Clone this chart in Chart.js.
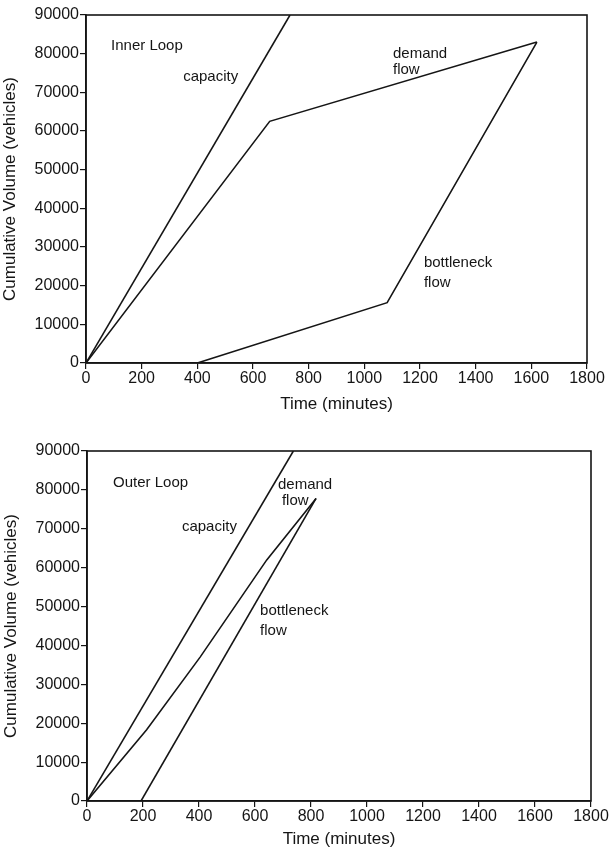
<!DOCTYPE html>
<html>
<head>
<meta charset="utf-8">
<script src="https://cdn.jsdelivr.net/npm/chart.js@4"></script>
<style>
  body { margin: 0; background: #fff; }
  canvas { display: block; }
</style>
</head>
<body>
<canvas id="inner" width="610" height="425"></canvas>
<canvas id="outer" width="610" height="425"></canvas>
<script>
// tick values
const timeTicks = [0, 200, 400, 600, 800, 1000, 1200, 1400, 1600, 1800];
const volumeTicks = [0, 10000, 20000, 30000, 40000, 50000, 60000, 70000, 80000, 90000];

// Inner Loop
const innerCapacityX = [0, 733];
const innerCapacityY = [0, 90000];
const innerDemandX = [0, 660, 1620];
const innerDemandY = [0, 62500, 83000];
const innerBottleneckX = [400, 1082, 1620];
const innerBottleneckY = [0, 15600, 83000];
const innerLabelText = ['Inner Loop', 'capacity', 'demand', 'flow', 'bottleneck', 'flow'];
const innerLabelX = [90, 349, 1103, 1103, 1214, 1214];
const innerLabelY = [82000, 74000, 80000, 75800, 26000, 20800];

// Outer Loop
const outerCapacityX = [0, 737];
const outerCapacityY = [0, 90000];
const outerDemandX = [0, 213, 404, 642, 818];
const outerDemandY = [0, 18300, 37000, 62000, 77800];
const outerBottleneckX = [193, 818];
const outerBottleneckY = [0, 77800];
const outerLabelText = ['Outer Loop', 'capacity', 'demand', 'flow', 'bottleneck', 'flow'];
const outerLabelX = [93, 339, 682, 696, 618, 618];
const outerLabelY = [81800, 70500, 81300, 77300, 48800, 43700];

const ink = '#151515';
const fontFamily = '"Liberation Sans", Arial, Helvetica, sans-serif';

function toPoints(xs, ys) {
  return xs.map((x, i) => ({ x: x, y: ys[i] }));
}

function series(xs, ys) {
  return {
    data: toPoints(xs, ys),
    borderColor: ink,
    borderWidth: 1.6,
    pointRadius: 0,
    showLine: true,
    tension: 0
  };
}

// box around the plot area
const framePlugin = {
  id: 'frame',
  afterDatasetsDraw(chart) {
    const a = chart.chartArea;
    const ctx = chart.ctx;
    ctx.save();
    ctx.strokeStyle = ink;
    ctx.lineWidth = 1.6;
    ctx.strokeRect(a.left, a.top, a.right - a.left, a.bottom - a.top);
    ctx.restore();
  }
};

// text notes placed in data coordinates
const notesPlugin = {
  id: 'notes',
  afterDatasetsDraw(chart, args, opts) {
    const ctx = chart.ctx;
    const xs = chart.scales.x, ys = chart.scales.y;
    ctx.save();
    ctx.fillStyle = ink;
    ctx.font = '15px ' + fontFamily;
    ctx.textAlign = 'left';
    ctx.textBaseline = 'middle';
    opts.text.forEach((t, i) => {
      ctx.fillText(t, xs.getPixelForValue(opts.x[i]), ys.getPixelForValue(opts.y[i]));
    });
    ctx.restore();
  }
};

function makeChart(id, datasets, notes, pad, xHeight) {
  return new Chart(document.getElementById(id), {
    type: 'scatter',
    data: { datasets: datasets },
    plugins: [framePlugin, notesPlugin],
    options: {
      responsive: false,
      animation: false,
      layout: { padding: pad },
      plugins: {
        legend: { display: false },
        tooltip: { enabled: false },
        notes: notes
      },
      scales: {
        x: {
          type: 'linear',
          min: 0,
          max: 1800,
          afterBuildTicks: s => { s.ticks = timeTicks.map(v => ({ value: v })); },
          afterFit: s => { s.height = xHeight; },
          ticks: {
            color: ink,
            font: { family: fontFamily, size: 16 },
            padding: 0,
            maxRotation: 0,
            autoSkip: false,
            callback: v => v
          },
          grid: { drawOnChartArea: false, tickLength: 6, color: ink, lineWidth: 1.2 },
          border: { display: true, color: ink, width: 1.6 },
          title: {
            display: true,
            text: 'Time (minutes)',
            color: ink,
            font: { family: fontFamily, size: 17 },
            padding: { top: 0, bottom: 0 }
          }
        },
        y: {
          type: 'linear',
          min: 0,
          max: 90000,
          afterBuildTicks: s => { s.ticks = volumeTicks.map(v => ({ value: v })); },
          afterFit: s => { s.width = 86; },
          ticks: {
            color: ink,
            font: { family: fontFamily, size: 16 },
            padding: 1,
            autoSkip: false,
            callback: v => v
          },
          grid: { drawOnChartArea: false, tickLength: 6, color: ink, lineWidth: 1.2 },
          border: { display: true, color: ink, width: 1.6 },
          title: {
            display: true,
            text: 'Cumulative Volume (vehicles)',
            color: ink,
            font: { family: fontFamily, size: 17 },
            padding: { top: 0, bottom: 2 }
          }
        }
      }
    }
  });
}

makeChart('inner', [
  series(innerCapacityX, innerCapacityY),
  series(innerDemandX, innerDemandY),
  series(innerBottleneckX, innerBottleneckY)
], { text: innerLabelText, x: innerLabelX, y: innerLabelY },
  { top: 15, right: 23, left: 0, bottom: 10 }, 52);

makeChart('outer', [
  series(outerCapacityX, outerCapacityY),
  series(outerDemandX, outerDemandY),
  series(outerBottleneckX, outerBottleneckY)
], { text: outerLabelText, x: outerLabelX, y: outerLabelY },
  { top: 26, right: 19, left: 1, bottom: 0 }, 49);
</script>
</body>
</html>
